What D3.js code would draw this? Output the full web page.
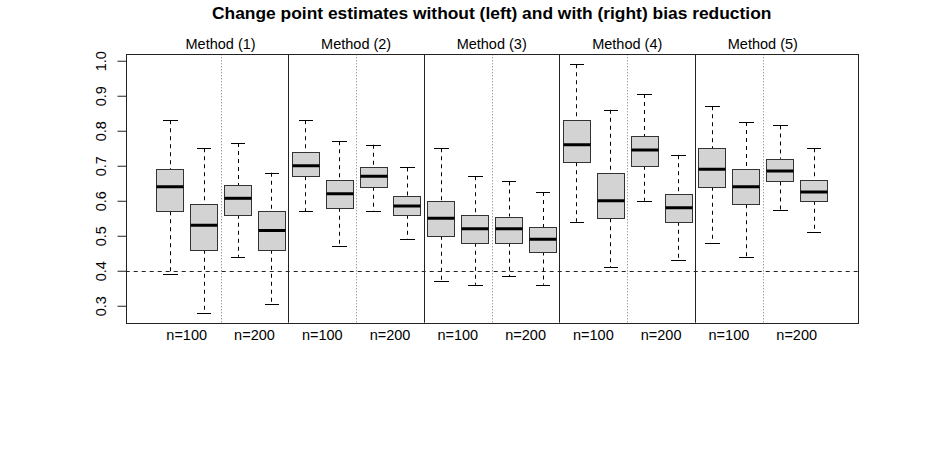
<!DOCTYPE html>
<html>
<head>
<meta charset="utf-8">
<script src="https://cdn.jsdelivr.net/npm/d3@7"></script>
<style>
body { margin: 0; background: #fff; }
text { font-family: "Liberation Sans", Arial, Helvetica, sans-serif; }
</style>
</head>
<body>
<script>
// values, one entry per box (5 methods x 2 sizes x 2 estimators)
var methods = ["Method (1)", "Method (2)", "Method (3)", "Method (4)", "Method (5)"];
var sizeLabels = ["n=100", "n=200"];
var whiskerHi = [0.83, 0.75, 0.765, 0.68,  0.83, 0.77, 0.76, 0.695,  0.75, 0.67, 0.655, 0.625,  0.99, 0.86, 0.905, 0.73,  0.87, 0.825, 0.815, 0.75];
var q3        = [0.69, 0.59, 0.645, 0.57,  0.74, 0.66, 0.695, 0.615, 0.60, 0.56, 0.555, 0.525,  0.83, 0.68, 0.785, 0.62,  0.75, 0.69, 0.72, 0.66];
var medians   = [0.64, 0.53, 0.607, 0.515, 0.70, 0.62, 0.67, 0.585,  0.55, 0.52, 0.52, 0.49,    0.76, 0.60, 0.745, 0.58,  0.69, 0.64, 0.685, 0.625];
var q1        = [0.57, 0.46, 0.56, 0.46,   0.67, 0.58, 0.64, 0.56,   0.50, 0.48, 0.48, 0.455,   0.71, 0.55, 0.70, 0.54,   0.64, 0.59, 0.655, 0.60];
var whiskerLo = [0.39, 0.28, 0.44, 0.305,  0.57, 0.47, 0.57, 0.49,   0.37, 0.36, 0.385, 0.36,   0.54, 0.41, 0.60, 0.43,   0.48, 0.44, 0.575, 0.51];
var yTicks = [0.3, 0.4, 0.5, 0.6, 0.7, 0.8, 0.9, 1.0];
var refLine = 0.4;

var W = 949, H = 450;
var pLeft = 125.7, pRight = 857.7, pTop = 54.3, pBottom = 322.7;

var svg = d3.select("body").append("svg")
    .attr("width", W)
    .attr("height", H);

var nBox = whiskerHi.length;
// R style 4% extension of the ranges
var x = d3.scaleLinear()
    .domain([0.5 - 0.04 * nBox, nBox + 0.5 + 0.04 * nBox])
    .range([pLeft, pRight]);
var lo = d3.min(whiskerLo), hi = d3.max(whiskerHi);
var y = d3.scaleLinear()
    .domain([lo - 0.04 * (hi - lo), hi + 0.04 * (hi - lo)])
    .range([pBottom, pTop]);

var boxes = whiskerHi.map(function(d, i) {
    return {pos: i + 1, hi: d, q3: q3[i], med: medians[i], q1: q1[i], lo: whiskerLo[i]};
});

var bw = (x(1.4) - x(0.6));
var capW = bw / 2;
function px(v) { return Math.round(v) + 0.5; }

// dotted separators between n=100 and n=200
svg.append("g").selectAll("line")
    .data(methods)
    .enter().append("line")
    .attr("x1", function(d, i) { return px(x(4 * i + 2.5)); })
    .attr("x2", function(d, i) { return px(x(4 * i + 2.5)); })
    .attr("y1", pTop).attr("y2", pBottom)
    .attr("stroke", "#777")
    .attr("stroke-dasharray", "1,2");

// solid separators between methods
svg.append("g").selectAll("line")
    .data(methods.slice(1))
    .enter().append("line")
    .attr("x1", function(d, i) { return px(x(4 * (i + 1) + 0.5)); })
    .attr("x2", function(d, i) { return px(x(4 * (i + 1) + 0.5)); })
    .attr("y1", pTop).attr("y2", pBottom)
    .attr("stroke", "#222");

// horizontal reference line
svg.append("line")
    .attr("x1", pLeft).attr("x2", pRight)
    .attr("y1", px(y(refLine)))
    .attr("y2", px(y(refLine)))
    .attr("stroke", "#222")
    .attr("stroke-dasharray", "4,4");

var g = svg.append("g").selectAll("g")
    .data(boxes)
    .enter().append("g");

// whiskers
g.append("line")
    .attr("x1", function(d) { return px(x(d.pos)); })
    .attr("x2", function(d) { return px(x(d.pos)); })
    .attr("y1", function(d) { return y(d.hi); })
    .attr("y2", function(d) { return y(d.q3); })
    .attr("stroke", "#000")
    .attr("stroke-dasharray", "4,4");
g.append("line")
    .attr("x1", function(d) { return px(x(d.pos)); })
    .attr("x2", function(d) { return px(x(d.pos)); })
    .attr("y1", function(d) { return y(d.q1); })
    .attr("y2", function(d) { return y(d.lo); })
    .attr("stroke", "#000")
    .attr("stroke-dasharray", "4,4");

// caps
g.selectAll(".cap")
    .data(function(d) { return [{pos: d.pos, v: d.hi}, {pos: d.pos, v: d.lo}]; })
    .enter().append("line")
    .attr("class", "cap")
    .attr("x1", function(d) { return Math.round(x(d.pos) - capW / 2); })
    .attr("x2", function(d) { return Math.round(x(d.pos) + capW / 2) + 1; })
    .attr("y1", function(d) { return px(y(d.v)); })
    .attr("y2", function(d) { return px(y(d.v)); })
    .attr("stroke", "#000");

// boxes
g.append("rect")
    .attr("x", function(d) { return px(x(d.pos) - bw / 2); })
    .attr("width", Math.round(bw))
    .attr("y", function(d) { return px(y(d.q3)); })
    .attr("height", function(d) { return Math.round(y(d.q1)) - Math.round(y(d.q3)); })
    .attr("fill", "#d3d3d3")
    .attr("stroke", "#333");

// medians
g.append("line")
    .attr("x1", function(d) { return px(x(d.pos) - bw / 2); })
    .attr("x2", function(d) { return px(x(d.pos) - bw / 2) + Math.round(bw); })
    .attr("y1", function(d) { return y(d.med); })
    .attr("y2", function(d) { return y(d.med); })
    .attr("stroke", "#000")
    .attr("stroke-width", 3);

// plot frame
svg.append("rect")
    .attr("x", px(pLeft)).attr("y", px(pTop))
    .attr("width", Math.round(pRight) - Math.round(pLeft))
    .attr("height", Math.round(pBottom) - Math.round(pTop))
    .attr("fill", "none")
    .attr("stroke", "#222");

// y axis
var yAxis = svg.append("g")
    .attr("transform", "translate(" + px(pLeft) + ",0)")
    .call(d3.axisLeft(y).tickValues(yTicks).tickSize(9).tickFormat(d3.format(".1f")));
yAxis.select(".domain").remove();
yAxis.selectAll(".tick line").attr("stroke", "#222");
yAxis.selectAll(".tick text")
    .attr("x", null).attr("dy", null)
    .attr("transform", "translate(-21,0) rotate(-90)")
    .attr("text-anchor", "middle")
    .attr("fill", "#000")
    .style("font-size", "14.5px")
    .style("font-family", "'Liberation Sans', Arial, sans-serif");

// sample size labels under the plot
var sizePos = [];
methods.forEach(function(m, i) {
    sizeLabels.forEach(function(s, j) { sizePos.push({label: s, pos: 4 * i + 2 * j + 1.5}); });
});
svg.append("g").selectAll("text")
    .data(sizePos)
    .enter().append("text")
    .attr("x", function(d) { return x(d.pos); })
    .attr("y", 340)
    .attr("text-anchor", "middle")
    .style("font-size", "14.5px")
    .text(function(d) { return d.label; });

// method labels above the plot
svg.append("g").selectAll("text")
    .data(methods)
    .enter().append("text")
    .attr("x", function(d, i) { return x(4 * i + 2.5); })
    .attr("y", 49)
    .attr("text-anchor", "middle")
    .style("font-size", "14.5px")
    .text(function(d) { return d; });

// title
svg.append("text")
    .attr("x", (pLeft + pRight) / 2)
    .attr("y", 19)
    .attr("text-anchor", "middle")
    .style("font-size", "17.4px")
    .style("font-weight", "bold")
    .text("Change point estimates without (left) and with (right) bias reduction");

// caption of the page, cut off at the bottom edge
svg.append("text")
    .attr("x", 5).attr("y", 462)
    .style("font-family", "'Liberation Serif', serif")
    .style("font-size", "17px")
    .attr("fill", "#555")
    .text("Figure 3: Boxplots of the change point estimates");
svg.append("text")
    .attr("x", 798).attr("y", 462)
    .style("font-family", "'Liberation Serif', serif")
    .style("font-size", "17px")
    .attr("fill", "#555")
    .text("The horizontal");
</script>
</body>
</html>
